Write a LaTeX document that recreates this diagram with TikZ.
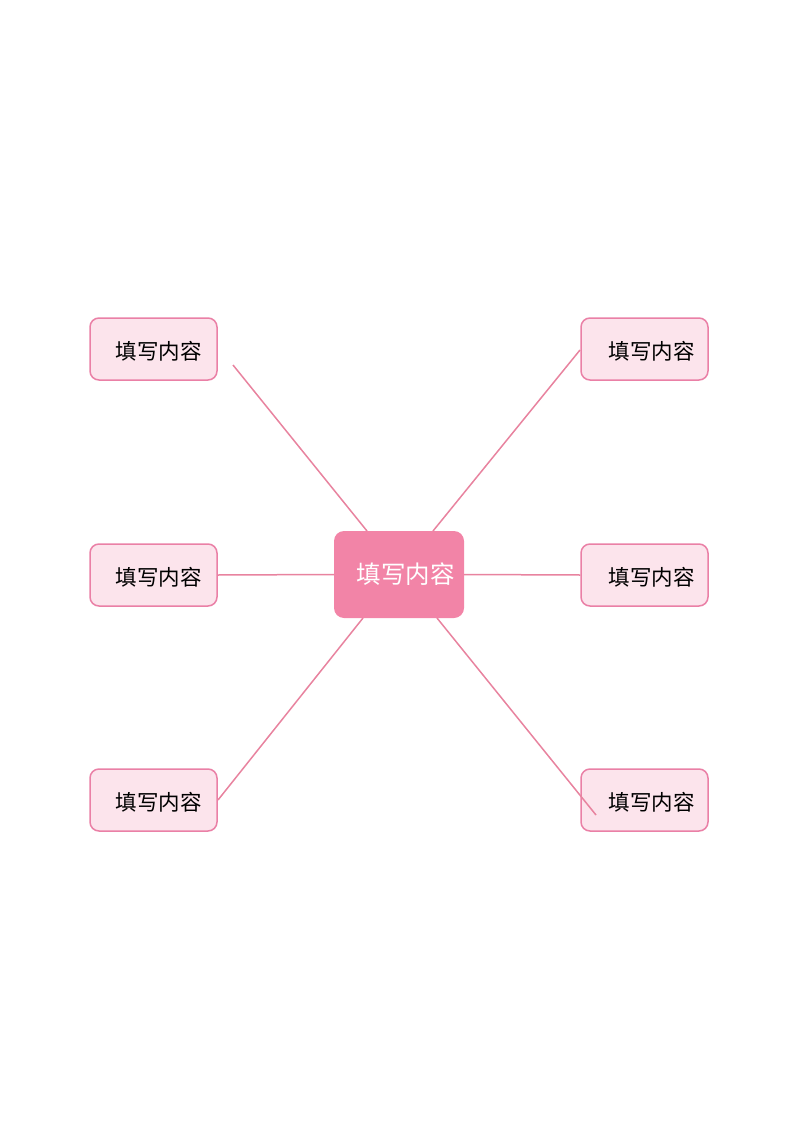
\documentclass[tikz,border=0pt]{standalone}
\usepackage{fontspec}
\setmainfont{Noto Sans CJK SC}
\usetikzlibrary{calc}
\definecolor{linepink}{HTML}{E8839F}
\definecolor{boxfill}{HTML}{FCE4EC}
\definecolor{boxedge}{HTML}{EA80A6}
\definecolor{cfill}{HTML}{F284A7}
\tikzset{
  leaf/.style={draw=boxedge, fill=boxfill, line width=1.5pt, rounded corners=9pt,
    minimum width=127pt, minimum height=62pt, inner sep=0pt},
  leaftext/.style={font=\fontsize{21.5}{25}\selectfont, text=black},
  hub/.style={fill=cfill, rounded corners=10pt, minimum width=130pt, minimum height=87pt, inner sep=0pt},
  link/.style={draw=linepink, line width=1.5pt}
}
\begin{document}
\begin{tikzpicture}[x=1pt,y=-1pt]
\useasboundingbox (0,0) rectangle (800,1131);
% hub
\node[hub] (c) at (399,574.5) {};
\node[font=\fontsize{24.5}{28}\selectfont, text=white] (ct) at (405.5,574) {填写内容};
% leaves
\node[leaf] (tl) at (153.5,349) {};
\node[leaf] (ml) at (153.5,575) {};
\node[leaf] (bl) at (153.5,800) {};
\node[leaf] (tr) at (644.5,349) {};
\node[leaf] (mr) at (644.5,575) {};
\node[leaf] (br) at (644.5,800) {};
\node[leaftext] (tlt) at (158.5,351) {填写内容};
\node[leaftext] (mlt) at (158.5,577) {填写内容};
\node[leaftext] (blt) at (158.5,802) {填写内容};
\node[leaftext] (trt) at (651.5,351) {填写内容};
\node[leaftext] (mrt) at (651.5,577) {填写内容};
\node[leaftext] (brt) at (651.5,802) {填写内容};
% connector ends
\coordinate (tlend) at (233,365);
\coordinate (trend) at (580,350);
\coordinate (blend) at (218,800);
\coordinate (brend) at (596,815);
\coordinate (cA) at (367,531);
\coordinate (cB) at (433,531);
\coordinate (cC) at (363,618);
\coordinate (cD) at (437,618);
\draw[link] (tlend) -- (cA);
\draw[link] (trend) -- (cB);
\draw[link] (blend) -- (cC);
\draw[link] (brend) -- (cD);
\draw[link] (ml.east) -- (c.west);
\draw[link] (mr.west) -- (c.east);
\end{tikzpicture}
\end{document}
